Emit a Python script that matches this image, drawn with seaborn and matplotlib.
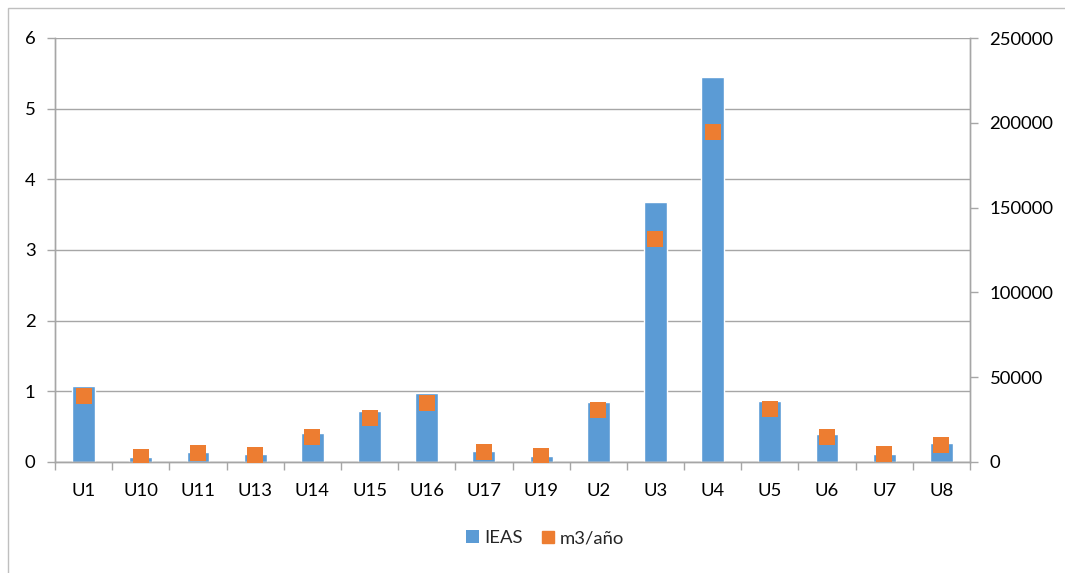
import matplotlib
matplotlib.use("Agg")
import matplotlib.pyplot as plt
from matplotlib.patches import Patch, Rectangle
from matplotlib.lines import Line2D
import numpy as np
import pandas as pd
import seaborn as sns

# Data per unit
units = ["U1", "U10", "U11", "U13", "U14", "U15", "U16", "U17", "U19",
         "U2", "U3", "U4", "U5", "U6", "U7", "U8"]
ieas = [1.08, 0.07, 0.145, 0.12, 0.41, 0.72, 0.975, 0.15, 0.09,
        0.85, 3.68, 5.45, 0.87, 0.40, 0.12, 0.27]
m3_anio = [38700, 3000, 5400, 4300, 15000, 25800, 34900, 5800, 3400,
           30500, 131500, 194700, 31400, 14600, 4900, 9900]

left_ticks = [0, 1, 2, 3, 4, 5, 6]
right_ticks = [0, 50000, 100000, 150000, 200000, 250000]

df = pd.DataFrame({"unit": units, "IEAS": ieas, "m3/año": m3_anio})

BLUE = "#5B9BD5"
ORANGE = "#ED7D31"
GRID = "#A6A6A6"
TXT = "#000000"
FS = 13.3

sns.set_theme(style="white")
plt.rcParams["font.family"] = ["Lato", "DejaVu Sans"]
plt.rcParams["font.size"] = FS

fig = plt.figure(figsize=(10.65, 5.73), dpi=100)
ax = fig.add_axes([55 / 1065, 1 - 462 / 573, 915 / 1065, 424 / 573])

# outer chart frame
fig.patches.append(Rectangle((8 / 1065, -0.1), 1.2, 1 - 8 / 573 + 0.1,
                             transform=fig.transFigure, fill=False,
                             edgecolor="#BFBFBF", linewidth=1))

sns.barplot(data=df, x="unit", y="IEAS", order=units, color=BLUE,
            width=0.4, saturation=1, ax=ax, zorder=2)
ax.set_ylim(0, 6)
ax.set_xlim(-0.5, len(units) - 0.5)
ax.set_yticks(left_ticks)
ax.set_yticklabels([str(t) for t in left_ticks])
ax.yaxis.grid(True, color=GRID, linewidth=1)
ax.set_axisbelow(True)
ax.set_xlabel("")
ax.set_ylabel("")

ax2 = ax.twinx()
sns.stripplot(data=df, x="unit", y="m3/año", order=units, jitter=False,
              marker="s", size=11, color=ORANGE, linewidth=0, ax=ax2,
              zorder=3)
ax2.set_ylim(0, 250000)
ax2.set_xlim(-0.5, len(units) - 0.5)
ax2.set_yticks(right_ticks)
ax2.set_yticklabels([str(t) for t in right_ticks])
ax2.set_ylabel("")
ax2.set_xlabel("")

for a in (ax, ax2):
    for s in a.spines.values():
        s.set_color(GRID)
        s.set_linewidth(1)
    a.spines["top"].set_visible(False)

ax.tick_params(axis="y", direction="out", length=6, width=1, color=GRID,
               pad=8, labelsize=FS, labelcolor=TXT, left=True)
ax2.tick_params(axis="y", direction="out", length=6, width=1, color=GRID,
                pad=8, labelsize=FS, labelcolor=TXT, right=True)

# category boundary ticks on the x axis
ax.set_xticks(np.arange(-0.5, len(units)), minor=True)
ax.tick_params(axis="x", which="minor", direction="out", length=6, width=1,
               color=GRID, bottom=True)
ax.tick_params(axis="x", which="major", length=0, pad=15, labelsize=FS,
               labelcolor=TXT)

handles = [Patch(facecolor=BLUE, edgecolor="none", label="IEAS"),
           Line2D([], [], marker="s", linestyle="none", color=ORANGE,
                  markersize=8, label="m3/año")]
fig.legend(handles=handles, loc="center", bbox_to_anchor=(545 / 1065, 1 - 538 / 573),
           ncol=2, frameon=False, fontsize=FS, handlelength=0.7,
           handleheight=0.7, handletextpad=0.3, columnspacing=1.0)

fig.savefig("out.png", dpi=100)
